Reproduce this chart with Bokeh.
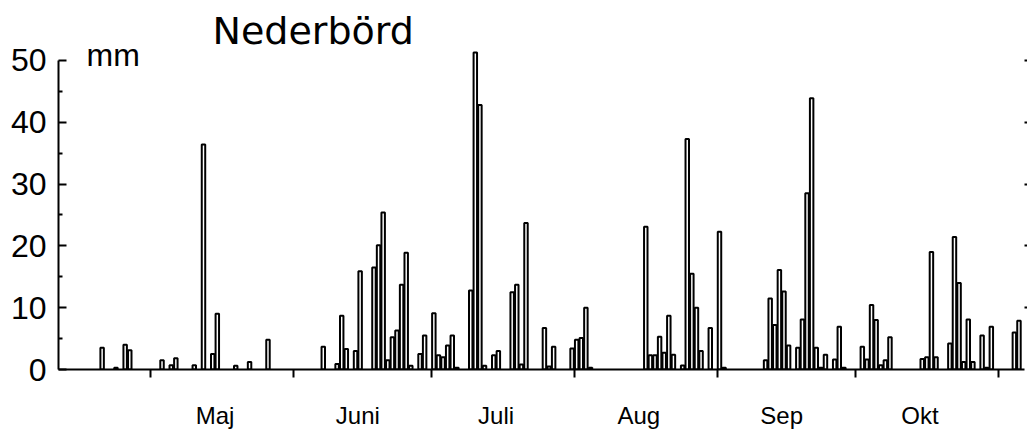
import pandas as pd
from bokeh.plotting import figure
from bokeh.models import FixedTicker, LinearAxis, Label, Range1d
from bokeh.embed import file_html
from bokeh.resources import INLINE

# ---------------- data (daily precipitation, mm) ----------------
YEAR = 2000
dates = ["04-20", "04-23", "04-25", "04-26",
         "05-03", "05-05", "05-06", "05-10", "05-12", "05-14", "05-15", "05-19", "05-22", "05-26",
         "06-07", "06-10", "06-11", "06-12", "06-14", "06-15", "06-18", "06-19", "06-20", "06-21",
         "06-22", "06-23", "06-24", "06-25", "06-26", "06-28", "06-29",
         "07-01", "07-02", "07-03", "07-04", "07-05", "07-06", "07-09", "07-10", "07-11", "07-12",
         "07-14", "07-15", "07-18", "07-19", "07-20", "07-21", "07-25", "07-26", "07-27", "07-31",
         "08-01", "08-02", "08-03", "08-04", "08-16", "08-17", "08-18", "08-19", "08-20", "08-21",
         "08-22", "08-24", "08-25", "08-26", "08-27", "08-28", "08-30",
         "09-01", "09-02", "09-11", "09-12", "09-13", "09-14", "09-15", "09-16", "09-18", "09-19",
         "09-20", "09-21", "09-22", "09-23", "09-24", "09-26", "09-27", "09-28",
         "10-02", "10-03", "10-04", "10-05", "10-06", "10-07", "10-08", "10-15", "10-16", "10-17",
         "10-18", "10-21", "10-22", "10-23", "10-24", "10-25", "10-26", "10-28", "10-29", "10-30",
         "11-04", "11-05"]
values = [3.5, 0.3, 4.0, 3.1,
          1.5, 0.7, 1.8, 0.7, 36.4, 2.5, 9.0, 0.6, 1.2, 4.8,
          3.7, 0.9, 8.7, 3.3, 3.0, 15.9, 16.5, 20.1, 25.4, 1.5,
          5.2, 6.3, 13.7, 18.9, 0.6, 2.5, 5.5,
          9.1, 2.3, 2.0, 3.9, 5.5, 0.3, 12.8, 51.3, 42.8, 0.6,
          2.3, 3.0, 12.5, 13.7, 0.8, 23.7, 6.7, 0.5, 3.7, 3.4,
          4.8, 5.1, 10.0, 0.3, 23.1, 2.3, 2.3, 5.3, 2.7, 8.7,
          2.4, 0.65, 37.3, 15.5, 10.0, 3.0, 6.7,
          22.3, 0.3, 1.5, 11.5, 7.2, 16.1, 12.6, 3.9, 3.5, 8.1,
          28.5, 43.9, 3.5, 0.3, 2.4, 1.6, 6.9, 0.3,
          3.7, 1.6, 10.45, 8.0, 0.7, 1.5, 5.2, 1.7, 2.0, 19.0,
          2.0, 4.2, 21.45, 14.0, 1.2, 8.1, 1.2, 5.5, 0.3, 6.9,
          6.0, 7.9]
month_starts = ["05-01", "06-01", "07-01", "08-01", "09-01", "10-01", "11-01"]
month_labels = ["Maj", "Juni", "Juli", "Aug", "Sep", "Okt"]
y_ticks = [0, 10, 20, 30, 40, 50]
y_minor = [5, 15, 25, 35, 45]
title_text = "Nederbörd"
unit_text = "mm"

# ---------------- derived positions ----------------
origin = pd.Timestamp(f"{YEAR}-05-01")


def day_of(md):
    return (pd.Timestamp(f"{YEAR}-{md}") - origin).days


t = [day_of(d) + 0.5 for d in dates]
bounds = [day_of(m) for m in month_starts]
label_pos = [b + 14 for b in bounds[:-1]]

# ---------------- layout ----------------
W, H = 1027, 432
LEFT, RIGHT, TOP, BOTTOM = 58, 3, 0, 63
X0, X1 = -19.97, 189.7
Y0, Y1 = 0.0, 59.7

fl, fr = LEFT, W - RIGHT
ft, fb = TOP, H - BOTTOM


def px_to_x(px):
    return X0 + (px - fl) * (X1 - X0) / (fr - fl)


def py_to_y(py):
    return Y0 + (fb - py) * (Y1 - Y0) / (fb - ft)


p = figure(width=W, height=H, output_backend="svg", toolbar_location=None,
           x_range=Range1d(X0, X1), y_range=Range1d(Y0, Y1),
           x_axis_type=None, y_axis_type=None,
           min_border_left=LEFT, min_border_right=RIGHT,
           min_border_top=TOP, min_border_bottom=BOTTOM)
p.outline_line_color = None
p.background_fill_color = "white"
p.border_fill_color = "white"

FONT = "Liberation Sans"

xa = LinearAxis(ticker=FixedTicker(ticks=label_pos, minor_ticks=bounds),
                major_label_overrides={k: v for k, v in zip(label_pos, month_labels)},
                axis_line_width=2, axis_line_color="black",
                major_tick_in=0, major_tick_out=0,
                minor_tick_in=0, minor_tick_out=8, minor_tick_line_width=2,
                minor_tick_line_color="black",
                major_label_text_font=FONT, major_label_text_font_size="24px",
                major_label_text_color="black", major_label_standoff=24)
p.add_layout(xa, "below")

ya = LinearAxis(ticker=FixedTicker(ticks=y_ticks, minor_ticks=y_minor), bounds=(0, 50),
                axis_line_width=2, axis_line_color="black",
                major_tick_in=8, major_tick_out=0, major_tick_line_width=2,
                minor_tick_in=4, minor_tick_out=0, minor_tick_line_width=2,
                minor_tick_line_color="black",
                major_label_text_font=FONT, major_label_text_font_size="32px",
                major_label_text_color="black", major_label_standoff=12)
p.add_layout(ya, "left")

ra = LinearAxis(ticker=FixedTicker(ticks=y_ticks[1:]), axis_line_color=None,
                major_tick_in=0, major_tick_out=3, major_tick_line_width=2,
                minor_tick_line_color=None,
                major_label_overrides={k: "" for k in y_ticks[1:]},
                major_label_text_font_size="1px", major_label_standoff=0)
p.add_layout(ra, "right")

p.vbar(x=t, top=values, bottom=0, width=0.75, fill_color="white",
       line_color="black", line_width=2)

p.add_layout(Label(x=px_to_x(212), y=py_to_y(30), text=title_text,
                   text_font="DejaVu Sans", text_font_size="38px",
                   text_color="black", text_baseline="alphabetic"))
p.add_layout(Label(x=px_to_x(86), y=py_to_y(54), text=unit_text,
                   text_font=FONT, text_font_size="32px",
                   text_color="black", text_baseline="alphabetic"))

open("out.html", "w").write(file_html(p, INLINE))
